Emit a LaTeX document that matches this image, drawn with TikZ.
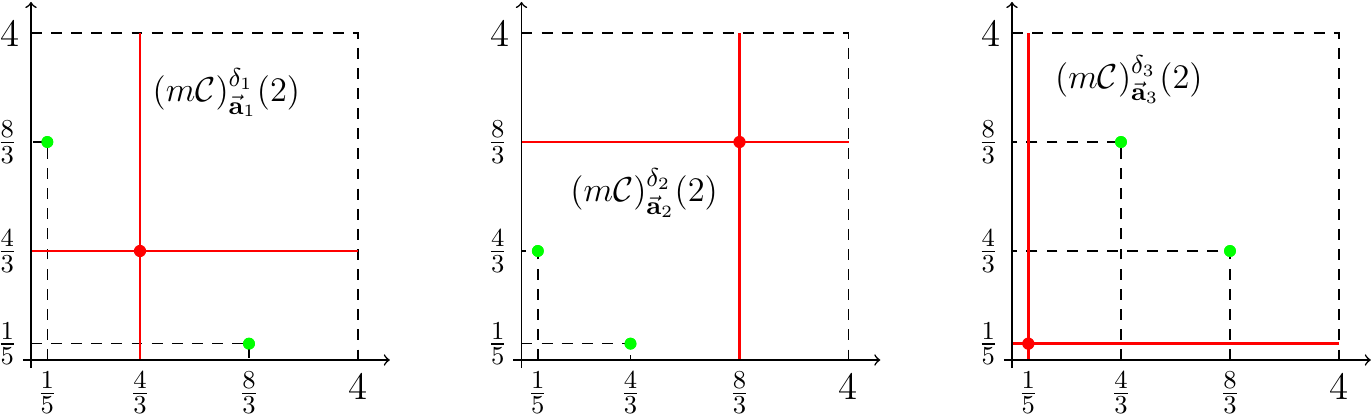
\documentclass[tikz,border=0pt]{standalone}
\usepackage{amsmath,amssymb}
\newcommand\myfrac[2]{{\fontsize{13}{15}\selectfont$\frac{#1}{#2}$}}
\tikzset{
  axisline/.style={line width=0.55pt,->},
  guide/.style={line width=0.55pt,dash pattern=on 3.8pt off 3.2pt},
  redline/.style={red,line width=0.95pt},
  reddot/.style={circle,fill=red,inner sep=0pt,minimum size=0.15cm},
  greendot/.style={circle,fill=green,inner sep=0pt,minimum size=0.145cm},
  lab/.style={inner sep=0pt},
  biglab/.style={inner sep=0pt,font=\fontsize{13.5}{15}\selectfont},
  titlelab/.style={inner sep=0pt,font=\fontsize{13}{15}\selectfont}
}
\newcommand\drawframe[1]{%
  \coordinate (#1-xs) at (-0.1,0);
  \coordinate (#1-xe) at (4.39,0);
  \coordinate (#1-ys) at (0,-0.1);
  \coordinate (#1-ye) at (0,4.38);
  \coordinate (#1-tl) at (0,4);
  \coordinate (#1-tr) at (4,4);
  \coordinate (#1-br) at (4,0);
  \draw[guide] (#1-tl) -- (#1-tr) -- (#1-br);
  \node[lab] (#1-x1) at (1/5,-0.40) {\myfrac15};
  \node[lab] (#1-x2) at (4/3,-0.40) {\myfrac43};
  \node[lab] (#1-x3) at (8/3,-0.40) {\myfrac83};
  \node[biglab] (#1-x4) at (4,-0.32) {4};
  \node[lab] (#1-y1) at (-0.29,1/5) {\myfrac15};
  \node[lab] (#1-y2) at (-0.29,4/3) {\myfrac43};
  \node[lab] (#1-y3) at (-0.29,8/3) {\myfrac83};
  \node[biglab] (#1-y4) at (-0.26,4) {4};
}
\newcommand\drawaxes[1]{%
  \draw[axisline] (#1-xs) -- (#1-xe);
  \draw[axisline] (#1-ys) -- (#1-ye);
}
\begin{document}
\begin{tikzpicture}
\useasboundingbox (-0.3792,-0.7095) rectangle (16.4037,4.4037);
% ---------- panel 1 ----------
\begin{scope}
  \drawframe{a}
  \node[greendot] (a-g1) at (1/5,8/3) {};
  \node[greendot] (a-g2) at (8/3,1/5) {};
  \coordinate (a-g1x) at (1/5,0);
  \coordinate (a-g1y) at (0,8/3);
  \coordinate (a-g2x) at (8/3,0);
  \coordinate (a-g2y) at (0,1/5);
  \draw[guide] (a-g1x) -- (a-g1.center) -- (a-g1y);
  \draw[guide] (a-g2y) -- (a-g2.center) -- (a-g2x);
  \coordinate (a-rv0) at (4/3,0);
  \coordinate (a-rv1) at (4/3,4);
  \coordinate (a-rh0) at (0,4/3);
  \coordinate (a-rh1) at (4,4/3);
  \draw[redline] (a-rv0) -- (a-rv1);
  \draw[redline] (a-rh0) -- (a-rh1);
  \drawaxes{a}
  \node[greendot] at (a-g1) {};
  \node[greendot] at (a-g2) {};
  \node[reddot] (a-r) at (4/3,4/3) {};
  \node[titlelab] (a-t) at (2.39,3.27) {$(m\mathcal{C})^{\delta_1}_{\vec{\mathbf{a}}_1}(2)$};
\end{scope}
% ---------- panel 2 ----------
\begin{scope}[xshift=6cm]
  \drawframe{b}
  \node[greendot] (b-g1) at (1/5,4/3) {};
  \node[greendot] (b-g2) at (4/3,1/5) {};
  \coordinate (b-g1x) at (1/5,0);
  \coordinate (b-g1y) at (0,4/3);
  \coordinate (b-g2x) at (4/3,0);
  \coordinate (b-g2y) at (0,1/5);
  \draw[guide] (b-g1x) -- (b-g1.center) -- (b-g1y);
  \draw[guide] (b-g2y) -- (b-g2.center) -- (b-g2x);
  \coordinate (b-rv0) at (8/3,0);
  \coordinate (b-rv1) at (8/3,4);
  \coordinate (b-rh0) at (0,8/3);
  \coordinate (b-rh1) at (4,8/3);
  \draw[redline] (b-rv0) -- (b-rv1);
  \draw[redline] (b-rh0) -- (b-rh1);
  \drawaxes{b}
  \node[greendot] at (b-g1) {};
  \node[greendot] at (b-g2) {};
  \node[reddot] (b-r) at (8/3,8/3) {};
  \node[titlelab] (b-t) at (1.50,2.04) {$(m\mathcal{C})^{\delta_2}_{\vec{\mathbf{a}}_2}(2)$};
\end{scope}
% ---------- panel 3 ----------
\begin{scope}[xshift=12cm]
  \drawframe{c}
  \node[greendot] (c-g1) at (4/3,8/3) {};
  \node[greendot] (c-g2) at (8/3,4/3) {};
  \coordinate (c-g1x) at (4/3,0);
  \coordinate (c-g1y) at (0,8/3);
  \coordinate (c-g2x) at (8/3,0);
  \coordinate (c-g2y) at (0,4/3);
  \draw[guide] (c-g1x) -- (c-g1.center) -- (c-g1y);
  \draw[guide] (c-g2x) -- (c-g2.center) -- (c-g2y);
  \coordinate (c-rv0) at (1/5,0);
  \coordinate (c-rv1) at (1/5,4);
  \coordinate (c-rh0) at (0,1/5);
  \coordinate (c-rh1) at (4,1/5);
  \draw[redline] (c-rv0) -- (c-rv1);
  \draw[redline] (c-rh0) -- (c-rh1);
  \drawaxes{c}
  \node[greendot] at (c-g1) {};
  \node[greendot] at (c-g2) {};
  \node[reddot] (c-r) at (1/5,1/5) {};
  \node[titlelab] (c-t) at (1.43,3.43) {$(m\mathcal{C})^{\delta_3}_{\vec{\mathbf{a}}_3}(2)$};
\end{scope}
\end{tikzpicture}
\end{document}
